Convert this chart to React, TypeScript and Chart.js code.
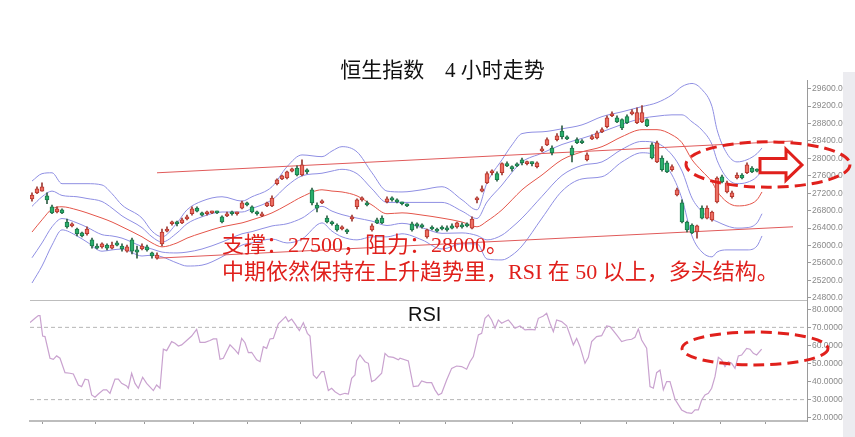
import React, { useEffect, useRef } from 'react';
import { Chart, registerables } from 'chart.js';

Chart.register(...registerables);

const W = 855;
const H = 437;

// ---------- data ----------
const opens = [
  27070, 27210, 27250, 27140, 26890, 26770, 26820, 26540, 26450, 26380,
  26290, 26270, 26130, 25990, 25970, 26010, 25940, 26060, 25990, 25870,
  26130, 25900, 25920, 25970, 25830, 25710, 26040, 26330, 26500, 26540,
  26520, 26610, 26730, 26860, 26750, 26730, 26750, 26770, 26660, 26680,
  26770, 26730, 26860, 26980, 26890, 26770, 26680, 26910, 26910, 27420,
  27530, 27550, 27710, 27780, 27620, 27740, 27280, 26930, 26980, 26630,
  26540, 26470, 26380, 26360, 26610, 26890, 27050, 26980, 26360, 26590,
  26630, 27000, 27070, 27050, 26980, 26930, 26500, 26470, 26450, 26200,
  26400, 26360, 26400, 26400, 26450, 26430, 26470, 26470, 26400, 27050,
  27250, 27440, 27670, 27650, 27670, 27880, 27810, 27850, 27970, 27880,
  27900, 27810, 28170, 28310, 28240, 28430, 28630, 28470, 28240, 28430,
  28380, 27970, 28450, 28470, 28610, 28730, 28980, 28930, 28890, 28960,
  29020, 28820, 28840, 28890, 28310, 27920, 28010, 27900, 27740, 27160,
  26980, 26540, 26470, 26310, 26860, 26630, 26590, 27000, 27580, 27230,
  27120, 27550, 27620, 27670, 27780, 27740, 27780,
];
const closes = [
  27160, 27300, 27350, 27050, 26750, 26840, 26750, 26430, 26500, 26270,
  26220, 26380, 25990, 25940, 26040, 25940, 26010, 26010, 25920, 25970,
  25870, 25850, 25990, 25900, 25760, 25780, 26310, 26380, 26540, 26500,
  26590, 26660, 26840, 26790, 26700, 26770, 26770, 26750, 26540, 26730,
  26730, 26750, 26980, 26930, 26770, 26730, 26730, 26980, 27090, 27510,
  27600, 27690, 27760, 27620, 27850, 27690, 26980, 26860, 27020, 26540,
  26500, 26360, 26430, 26310, 26660, 27050, 27070, 26930, 26450, 26520,
  26520, 27070, 27050, 27000, 26960, 26910, 26360, 26450, 26430, 26360,
  26380, 26330, 26380, 26360, 26400, 26520, 26430, 26450, 26610, 27060,
  27300, 27650, 27710, 27510, 27880, 27830, 27760, 27830, 27900, 27900,
  27880, 27900, 28220, 28430, 28130, 28520, 28500, 28450, 28080, 28360,
  28360, 28080, 28500, 28590, 28660, 28930, 29020, 28840, 28700, 28820,
  29070, 29050, 29050, 28750, 28010, 28360, 27740, 27690, 27810, 27280,
  26540, 26360, 26290, 26450, 26630, 26860, 26770, 27550, 27460, 27440,
  27210, 27620, 27550, 27850, 27690, 27710, 27810,
];
const highs = [
  27210, 27350, 27440, 27210, 26930, 26890, 26840, 26610, 26520, 26400,
  26310, 26430, 26170, 26040, 26060, 26040, 26080, 26100, 26040, 26010,
  26170, 25990, 26040, 26010, 25850, 25830, 26380, 26430, 26560, 26560,
  26630, 26700, 26890, 26890, 26770, 26790, 26790, 26790, 26680, 26770,
  26790, 26770, 27020, 27000, 26910, 26790, 26770, 27000, 27140, 27530,
  27620, 27710, 27780, 27830, 27970, 27760, 27320, 26980, 27050, 26680,
  26560, 26500, 26450, 26380, 26700, 27070, 27120, 27020, 26500, 26630,
  26680, 27120, 27120, 27070, 27000, 26960, 26540, 26520, 26500, 26380,
  26450, 26400, 26450, 26450, 26500, 26540, 26520, 26520, 26660, 27120,
  27370, 27690, 27740, 27690, 27900, 27920, 27830, 27900, 28010, 27940,
  27920, 27920, 28270, 28470, 28290, 28570, 28750, 28520, 28290, 28470,
  28430, 28130, 28540, 28630, 28700, 28980, 29070, 28980, 28910, 29000,
  29120, 29160, 29210, 28910, 28360, 28400, 28060, 27940, 27850, 27320,
  27050, 26560, 26500, 26470, 26910, 26910, 26790, 27580, 27620, 27480,
  27250, 27670, 27650, 27900, 27810, 27760, 27830,
];
const lows = [
  27020, 27190, 27250, 26960, 26730, 26750, 26730, 26400, 26430, 26220,
  26200, 26240, 25940, 25920, 25940, 25900, 25920, 25990, 25870, 25850,
  25810, 25710, 25900, 25870, 25710, 25690, 25990, 26310, 26470, 26450,
  26500, 26590, 26700, 26770, 26680, 26700, 26730, 26730, 26520, 26660,
  26700, 26700, 26840, 26910, 26750, 26700, 26660, 26890, 26890, 27390,
  27510, 27530, 27690, 27600, 27600, 27650, 26930, 26770, 26960, 26520,
  26470, 26330, 26360, 26270, 26560, 26840, 27020, 26910, 26330, 26500,
  26500, 26980, 27020, 26980, 26930, 26890, 26330, 26400, 26400, 26170,
  26360, 26310, 26360, 26330, 26380, 26400, 26400, 26430, 26380, 26980,
  27230, 27420, 27620, 27480, 27620, 27810, 27710, 27810, 27850, 27850,
  27830, 27780, 28150, 28290, 28080, 28400, 28450, 28430, 27920, 28340,
  28340, 27940, 28430, 28450, 28590, 28700, 28960, 28820, 28660, 28800,
  29000, 28800, 28820, 28730, 27990, 27900, 27710, 27670, 27710, 27140,
  26520, 26310, 26270, 26170, 26610, 26610, 26560, 26980, 27440, 27210,
  27090, 27530, 27530, 27650, 27670, 27690, 27760,
];

const bandIdx = [
  0, 2, 4, 6, 9, 11, 14, 16, 18, 22, 24, 26, 29, 31, 34, 38, 42, 44, 48, 51,
  54, 58, 60, 62, 65, 68, 71, 74, 78, 82, 86, 89, 91, 94, 96, 98, 102, 106, 110, 114,
  118, 122, 125, 128, 130, 132, 134, 136, 137, 139, 141, 143, 145, 146,
];
const bandUpper2 = [
  27480, 27650, 27670, 27420, 27420, 27420, 27390, 27190, 26930, 26630, 26330, 26200, 26520, 26820, 27020, 27120, 27020, 27120, 27350, 27810,
  28080, 28040, 28170, 28270, 28150, 27670, 27250, 27230, 27280, 27350, 27050, 26820, 27440, 27970, 28310, 28570, 28610, 28680, 28770, 28960,
  29070, 29190, 29280, 29460, 29650, 29720, 29580, 29190, 28660, 28110, 27920, 27970, 28110, 28240,
];
const bandUpper1 = [
  26900, 27120, 27250, 27150, 27120, 27080, 27010, 26860, 26680, 26410, 26200, 26080, 26290, 26500, 26660, 26770, 26770, 26850, 27050, 27370,
  27600, 27660, 27710, 27750, 27650, 27300, 26990, 26990, 26990, 26990, 26790, 26620, 27000, 27390, 27680, 27920, 28120, 28320, 28460, 28610,
  28780, 28920, 28970, 29000, 29000, 28840, 28650, 28320, 27960, 27550, 27420, 27450, 27580, 27740,
];
const bandMid = [
  26310, 26590, 26840, 26890, 26820, 26750, 26630, 26540, 26430, 26200, 26060, 25970, 26060, 26170, 26290, 26430, 26520, 26590, 26750, 26930,
  27120, 27280, 27250, 27230, 27140, 26930, 26730, 26750, 26700, 26630, 26540, 26430, 26560, 26820, 27050, 27280, 27620, 27970, 28150, 28270,
  28500, 28660, 28660, 28540, 28360, 27970, 27710, 27460, 27250, 27000, 26910, 26930, 27050, 27230,
];
const bandLower1 = [
  25720, 26060, 26430, 26620, 26520, 26420, 26250, 26220, 26170, 25980, 25920, 25850, 25830, 25850, 25920, 26080, 26270, 26320, 26450, 26500,
  26630, 26900, 26790, 26710, 26630, 26560, 26460, 26510, 26410, 26280, 26290, 26230, 26130, 26240, 26420, 26630, 27130, 27610, 27840, 27920,
  28210, 28390, 28350, 28080, 27710, 27090, 26780, 26600, 26550, 26450, 26400, 26410, 26520, 26730,
];
const bandLower2 = [
  25140, 25530, 26010, 26360, 26220, 26080, 25870, 25900, 25920, 25760, 25780, 25740, 25600, 25530, 25550, 25740, 26010, 26060, 26150, 26060,
  26150, 26520, 26330, 26200, 26130, 26200, 26200, 26270, 26130, 25920, 26040, 26040, 25690, 25670, 25780, 25990, 26630, 27250, 27530, 27580,
  27920, 28130, 28040, 27620, 27070, 26220, 25850, 25740, 25850, 25900, 25900, 25900, 25990, 26220,
];

// trend lines (start / end)
const trendIdx = [25, 152.2];
const trendUpper = [27670, 28400];
const trendLower = [25710, 26430];

// RSI
const rsiIdx = [
  -0.4, 0.6, 1.27, 1.6, 2.13, 2.6, 3.6, 4.27, 4.93, 5.6, 6.6, 7.6, 8.27, 9.27, 9.93, 10.6, 11.27, 11.93, 12.6, 13.27,
  14.27, 14.93, 15.6, 16.6, 17.27, 17.93, 18.93, 19.27, 19.93, 20.6, 21.27, 22.13, 22.93, 24.27, 24.93, 25.6, 26.27, 26.93, 27.93, 28.6,
  29.27, 29.93, 30.93, 31.93, 32.93, 33.6, 34.6, 35.6, 36.27, 36.93, 37.6, 38.27, 38.93, 39.6, 40.6, 41.27, 41.93, 42.6, 43.27, 43.93,
  44.93, 45.6, 46.27, 46.93, 47.6, 48.27, 49.27, 49.93, 50.73, 51.27, 51.93, 52.6, 53.47, 54.27, 55.07, 55.6, 56.27, 56.93, 57.93, 58.4,
  59.27, 59.93, 60.6, 61.6, 62.6, 63.27, 63.93, 64.6, 64.93, 65.6, 66.6, 67.27, 67.93, 68.6, 69.93, 70.6, 71.27, 72.27, 73.27, 73.6,
  75.27, 76.27, 77.27, 77.93, 78.93, 79.93, 80.6, 81.27, 81.93, 82.93, 83.93, 84.93, 85.93, 86.93, 87.6, 88.27, 89.27, 89.93, 90.6, 91.27,
  91.93, 92.6, 93.27, 93.93, 94.6, 95.27, 95.93, 96.6, 97.6, 98.6, 99.6, 100.6, 101.27, 102.27, 102.93, 103.6, 104.27, 104.93, 105.93, 106.93,
  107.6, 108.27, 108.93, 109.6, 110.6, 111.27, 111.93, 112.93, 113.93, 114.93, 115.6, 116.93, 117.93, 118.93, 119.93, 120.6, 121.27, 121.93, 122.93, 123.6,
  124.27, 124.93, 125.6, 126.27, 126.93, 127.6, 128.6, 129.93, 130.93, 131.93, 132.6, 133.27, 133.93, 134.6, 135.27, 135.93, 136.6, 137.27, 137.93, 138.6,
  139.27, 139.93, 140.6, 141.27, 141.93, 142.93, 143.6, 144.27, 144.93, 145.93,
];
const rsiVal = [
  72.6, 75.0, 76.5, 76.5, 65.2, 64.9, 52.9, 52.3, 54.2, 52.9, 44.9, 44.6, 44.2, 38.1, 37.2, 41.3, 40.9, 32.6, 31.3, 33.1,
  35.4, 35.4, 33.5, 41.4, 41.3, 39.0, 37.6, 36.3, 44.6, 39.0, 36.3, 42.4, 39.0, 35.0, 38.1, 36.3, 57.9, 57.1, 62.1, 61.2,
  59.7, 60.3, 62.7, 65.2, 68.9, 61.7, 61.7, 62.7, 63.6, 63.6, 52.3, 52.9, 56.6, 60.3, 57.5, 55.3, 63.9, 61.5, 56.0, 56.2,
  52.0, 51.0, 59.3, 58.4, 63.6, 63.9, 71.9, 73.7, 75.9, 73.2, 74.6, 71.9, 68.2, 72.6, 66.7, 65.2, 43.7, 41.8, 45.5, 45.5,
  35.0, 36.3, 34.4, 32.6, 33.5, 33.1, 41.8, 43.7, 51.6, 54.7, 51.0, 50.1, 40.0, 40.9, 44.6, 55.6, 53.8, 53.4, 52.0, 52.9,
  51.4, 37.2, 37.6, 40.3, 39.4, 39.4, 35.4, 32.6, 33.5, 40.9, 47.3, 48.6, 48.3, 46.8, 51.0, 53.8, 65.8, 66.7, 75.0, 76.9,
  74.1, 69.5, 74.1, 72.3, 73.2, 74.1, 71.9, 69.5, 70.8, 68.6, 68.9, 68.6, 75.0, 76.3, 77.8, 72.3, 67.6, 74.1, 73.2, 70.8,
  65.8, 60.3, 63.9, 59.3, 50.1, 53.4, 62.1, 64.9, 65.4, 70.8, 70.4, 65.8, 62.1, 63.0, 63.4, 64.5, 69.1, 63.0, 58.4, 37.2,
  36.3, 44.9, 46.4, 35.4, 40.0, 40.0, 30.2, 24.3, 22.8, 22.4, 24.3, 24.3, 29.8, 32.6, 33.5, 36.3, 42.7, 53.4, 52.0, 48.3,
  51.0, 50.1, 47.3, 54.2, 54.7, 58.4, 57.9, 55.6, 54.7, 57.9,
];
const rsiLevels = [70, 30];

// axis ticks
const priceTicks = [24800, 25200, 25600, 26000, 26400, 26800, 27200, 27600, 28000, 28400, 28800, 29200, 29600];
const rsiTicks = [20, 30, 40, 50, 60, 70, 80];
const sessionTicks = [7.4, 18, 27.2, 37.4, 48.6, 58.8, 68.8, 78, 87.2, 105, 114.2, 123.6, 133, 142.2];

// texts
const titleText = '恒生指数　4 小时走势';
const noteLine1 = '支撑：27500，阻力：28000。';
const noteLine2 = '中期依然保持在上升趋势里，RSI 在 50 以上，多头结构。';
const rsiLabel = 'RSI';

// ---------- styling / annotation placement ----------
const X_MIN = -0.4;
const X_MAX = 155;
const P_MIN = 24750;
const P_MAX = 29800;
const R_MIN = 18.17;
const R_MAX = 85.14;

const annot = {
  note1: { x: 38, y: 25990 },
  note2: { x: 38, y: 25370 },
  rsiLabel: { x: 75.2, y: 76.8 },
  priceEllipse: { cx: 147.2, cy: 27860, rx: 16.4, ry: 520 },
  rsiEllipse: { cx: 144.6, cy: 58.3, rx: 14.6, ry: 9.1 },
  arrow: [
    [145.6, 28000], [150.8, 28000], [150.8, 28210], [154.0, 27850],
    [150.8, 27500], [150.8, 27670], [145.6, 27670],
  ],
};

const RED = '#e0201c';
const BAND = '#8f8fe3';
const MID = '#e4554a';
const TREND = '#e05a5a';

const idx = opens.map((_, i) => i);
const isUp = idx.map((i) => closes[i] >= opens[i]);

const annotationPlugin = {
  id: 'annot',
  afterDatasetsDraw(chart: any) {
    const { ctx, chartArea, scales } = chart;
    const x = scales.x;
    const y = scales.y;
    const r = scales.rsi;
    ctx.save();

    // frame line between the two panels
    ctx.strokeStyle = '#bdbdbd';
    ctx.lineWidth = 1;
    ctx.beginPath();
    ctx.moveTo(chartArea.left, Math.round(r.top) + 0.5);
    ctx.lineTo(chartArea.right, Math.round(r.top) + 0.5);
    ctx.stroke();

    // red notes
    ctx.fillStyle = RED;
    ctx.textAlign = 'left';
    ctx.textBaseline = 'middle';
    ctx.font = "22px 'Liberation Serif', 'Noto Sans CJK SC', serif";
    ctx.fillText(noteLine1, x.getPixelForValue(annot.note1.x), y.getPixelForValue(annot.note1.y));
    ctx.fillText(noteLine2, x.getPixelForValue(annot.note2.x), y.getPixelForValue(annot.note2.y));

    // RSI label
    ctx.fillStyle = '#111';
    ctx.font = "20px 'Liberation Sans', Arial, sans-serif";
    ctx.fillText(rsiLabel, x.getPixelForValue(annot.rsiLabel.x), r.getPixelForValue(annot.rsiLabel.y));

    ctx.restore();
  },
  afterDraw(chart: any) {
    const { ctx, chartArea, scales, width, height } = chart;
    const x = scales.x;
    const y = scales.y;
    const r = scales.rsi;
    ctx.save();

    // light side strip at the far right of the picture
    ctx.fillStyle = '#ececf0';
    ctx.fillRect(chartArea.right + 36, chartArea.top - 8, width - chartArea.right - 36, height - chartArea.top + 8);

    // dashed ellipses
    const ell = (sc: any, e: any) => {
      const cx = x.getPixelForValue(e.cx);
      const cy = sc.getPixelForValue(e.cy);
      const rx = Math.abs(x.getPixelForValue(e.cx + e.rx) - cx);
      const ry = Math.abs(sc.getPixelForValue(e.cy + e.ry) - cy);
      ctx.beginPath();
      ctx.ellipse(cx, cy, rx, ry, 0, 0, Math.PI * 2);
      ctx.stroke();
    };
    ctx.strokeStyle = RED;
    ctx.lineWidth = 3;
    ctx.setLineDash([11, 6]);
    ell(y, annot.priceEllipse);
    ell(r, annot.rsiEllipse);

    // arrow
    ctx.setLineDash([]);
    ctx.beginPath();
    annot.arrow.forEach((p, k) => {
      const px = x.getPixelForValue(p[0]);
      const py = y.getPixelForValue(p[1]);
      if (k === 0) ctx.moveTo(px, py);
      else ctx.lineTo(px, py);
    });
    ctx.closePath();
    ctx.fillStyle = '#ffffff';
    ctx.fill();
    ctx.lineWidth = 3;
    ctx.lineJoin = 'miter';
    ctx.stroke();

    ctx.restore();
  },
};

const lineDs = (xs: number[], ys: number[], color: string, extra: any = {}) => ({
  type: 'line',
  data: xs.map((v, k) => ({ x: v, y: ys[k] })),
  borderColor: color,
  borderWidth: 1,
  pointRadius: 0,
  fill: false,
  ...extra,
});

const axisTicks = (fmt: (v: number) => string) => ({
  color: '#8a8a8a',
  padding: 1,
  autoSkip: false,
  font: { size: 8.5, family: "'Liberation Sans', Arial, sans-serif" },
  callback: (v: any) => fmt(Number(v)),
});

export default function App() {
  const ref = useRef<HTMLCanvasElement | null>(null);

  useEffect(() => {
    if (!ref.current) return;
    const band = { cubicInterpolationMode: 'monotone', order: 6, yAxisID: 'y' };
    const chart = new Chart(ref.current, {
      type: 'bar',
      data: {
        datasets: [
          lineDs(bandIdx, bandUpper2, BAND, band),
          lineDs(bandIdx, bandUpper1, BAND, band),
          lineDs(bandIdx, bandMid, MID, band),
          lineDs(bandIdx, bandLower1, BAND, band),
          lineDs(bandIdx, bandLower2, BAND, band),
          lineDs(trendIdx, trendUpper, TREND, { order: 5, yAxisID: 'y' }),
          lineDs(trendIdx, trendLower, TREND, { order: 5, yAxisID: 'y' }),
          {
            type: 'bar',
            data: idx.map((i) => ({ x: i, y: [lows[i], highs[i]] })),
            backgroundColor: idx.map((i) => (isUp[i] ? '#9a3a33' : '#2f5f45')),
            barThickness: 1,
            grouped: false,
            order: 3,
            yAxisID: 'y',
          },
          {
            type: 'bar',
            data: idx.map((i) => ({ x: i, y: [opens[i], closes[i]] })),
            backgroundColor: idx.map((i) => (isUp[i] ? '#ec6e62' : '#2aae6c')),
            borderColor: idx.map((i) => (isUp[i] ? '#b9372e' : '#1b7a4b')),
            borderWidth: 1,
            borderSkipped: false,
            barThickness: 4,
            minBarLength: 2,
            grouped: false,
            order: 2,
            yAxisID: 'y',
          },
          lineDs([X_MIN, X_MAX], [rsiLevels[0], rsiLevels[0]], '#b5b5b5', { borderDash: [4, 3], yAxisID: 'rsi', order: 4 }),
          lineDs([X_MIN, X_MAX], [rsiLevels[1], rsiLevels[1]], '#b5b5b5', { borderDash: [4, 3], yAxisID: 'rsi', order: 4 }),
          lineDs(rsiIdx, rsiVal, '#c9a2cf', { yAxisID: 'rsi', order: 1, borderWidth: 1.2 }),
        ] as any,
      },
      options: {
        responsive: false,
        animation: false,
        devicePixelRatio: 1,
        events: [],
        layout: { padding: { left: 30, right: 0, top: 63.2, bottom: 13 } },
        plugins: {
          legend: { display: false },
          tooltip: { enabled: false },
          title: {
            display: true,
            text: titleText,
            color: '#111',
            padding: 0,
            font: {
              size: 21,
              family: "'Liberation Serif', 'Noto Sans CJK SC', serif",
              weight: 'normal',
              lineHeight: 0.8,
            },
          },
        },
        scales: {
          x: {
            type: 'linear',
            min: X_MIN,
            max: X_MAX,
            offset: false,
            grid: { display: true, drawOnChartArea: false, drawTicks: true, tickLength: 3, color: '#9a9a9a' },
            border: { display: true, color: '#bdbdbd', width: 2 },
            ticks: { display: false },
            afterBuildTicks: (s: any) => {
              s.ticks = sessionTicks.map((v) => ({ value: v }));
            },
            afterFit: (s: any) => {
              s.height = 3;
            },
          },
          y: {
            type: 'linear',
            position: 'right',
            stack: 'panels',
            stackWeight: 220,
            min: P_MIN,
            max: P_MAX,
            afterBuildTicks: (s: any) => {
              s.ticks = priceTicks.map((v) => ({ value: v }));
            },
            ticks: axisTicks((v) => v.toFixed(2)),
            grid: { drawOnChartArea: false, drawTicks: true, tickLength: 4, color: '#9a9a9a' },
            border: { display: true, color: '#9a9a9a', width: 1 },
            afterFit: (s: any) => {
              s.width = 48;
            },
          },
          rsi: {
            type: 'linear',
            position: 'right',
            stack: 'panels',
            stackWeight: 121,
            min: R_MIN,
            max: R_MAX,
            afterBuildTicks: (s: any) => {
              s.ticks = rsiTicks.map((v) => ({ value: v }));
            },
            ticks: axisTicks((v) => v.toFixed(4)),
            grid: { drawOnChartArea: false, drawTicks: true, tickLength: 4, color: '#9a9a9a' },
            border: { display: true, color: '#9a9a9a', width: 1 },
            afterFit: (s: any) => {
              s.width = 48;
            },
          },
        },
      } as any,
      plugins: [annotationPlugin],
    });
    return () => chart.destroy();
  }, []);

  return (
    <div style={{ position: 'absolute', left: 0, top: 0, width: W, height: H, background: '#fff' }}>
      <canvas ref={ref} width={W} height={H} style={{ display: 'block', width: W, height: H }} />
    </div>
  );
}
